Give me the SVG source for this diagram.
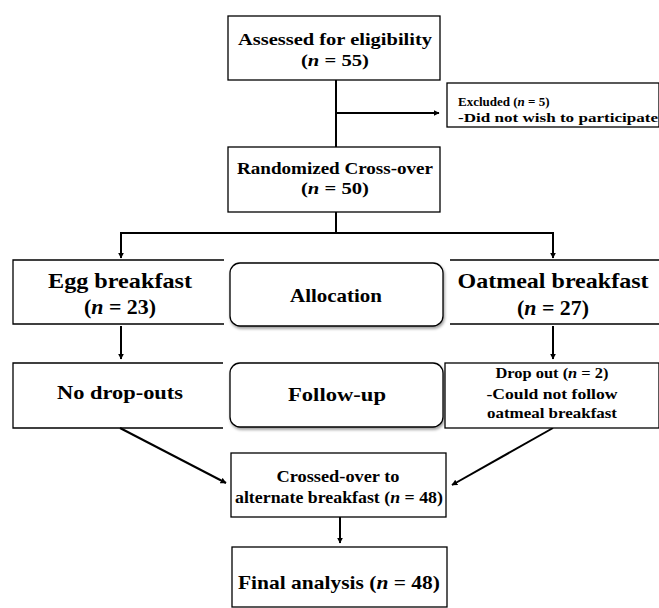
<svg xmlns="http://www.w3.org/2000/svg" width="659" height="608" viewBox="0 0 659 608">
<defs>
<marker id="ah" viewBox="0 0 10 10" refX="9" refY="5" markerWidth="6" markerHeight="6" markerUnits="userSpaceOnUse" orient="auto">
<path d="M0,0 L10,5 L0,10 z" fill="#000"/>
</marker>
<filter id="sh" x="-10%" y="-10%" width="130%" height="140%">
<feGaussianBlur in="SourceAlpha" stdDeviation="1.5"/>
<feOffset dx="1" dy="2" result="b"/>
<feComponentTransfer><feFuncA type="linear" slope="0.4"/></feComponentTransfer>
<feMerge><feMergeNode/><feMergeNode in="SourceGraphic"/></feMerge>
</filter>
</defs>
<style>
text{font-family:"Liberation Serif","Times New Roman",serif;font-weight:bold;fill:#000;text-anchor:middle}
.box{fill:#fff;stroke:#000;stroke-width:1.3}
.open{fill:none;stroke:#000;stroke-width:1.3}
.rbox{fill:#fff;stroke:#000;stroke-width:1.3;filter:url(#sh)}
.c{fill:none;stroke:#000;stroke-width:2}
.s{font-size:16px}
.xs{font-size:14px}
.ex{font-size:13px}
.l{font-size:22px}
.m{font-size:19px}
</style>
<rect width="659" height="608" fill="#fff"/>
<g id="connectors">
<line class="c" x1="336" y1="80" x2="336" y2="147"/>
<line class="c" x1="336" y1="113" x2="439" y2="113" marker-end="url(#ah)"/>
<polyline class="c" points="336,212 336,233 121,233 121,258" marker-end="url(#ah)"/>
<polyline class="c" points="336,233 553,233 553,258" marker-end="url(#ah)"/>
<line class="c" x1="121" y1="326" x2="121" y2="359" marker-end="url(#ah)"/>
<line class="c" x1="553" y1="326" x2="553" y2="359" marker-end="url(#ah)"/>
<line class="c" x1="120" y1="428" x2="226" y2="483" marker-end="url(#ah)"/>
<line class="c" x1="553" y1="428" x2="452" y2="485" marker-end="url(#ah)"/>
<line class="c" x1="340" y1="517" x2="340" y2="543" marker-end="url(#ah)"/>
</g>
<g id="assessed">
<rect class="box" x="228" y="16" width="212" height="64"/>
<text class="s" x="335" y="45" textLength="194" lengthAdjust="spacingAndGlyphs">Assessed for eligibility</text>
<text class="s" x="335" y="66" textLength="68" lengthAdjust="spacingAndGlyphs">(<tspan font-style="italic">n</tspan> = 55)</text>
</g>
<g id="excluded">
<rect class="box" x="447" y="83" width="212" height="44"/>
<text class="ex" x="458" y="106" style="text-anchor:start">Excluded (<tspan font-style="italic">n</tspan> = 5)</text>
<text class="ex" x="458" y="122" style="text-anchor:start" textLength="200" lengthAdjust="spacingAndGlyphs">-Did not wish to participate</text>
</g>
<g id="randomized">
<rect class="box" x="228" y="147" width="212" height="65"/>
<text class="s" x="335" y="174" textLength="196" lengthAdjust="spacingAndGlyphs">Randomized Cross-over</text>
<text class="s" x="335" y="194" textLength="68" lengthAdjust="spacingAndGlyphs">(<tspan font-style="italic">n</tspan> = 50)</text>
</g>
<g id="egg">
<path class="open" d="M224,260 H13 V324 H224"/>
<text class="l" x="120" y="288" textLength="144" lengthAdjust="spacingAndGlyphs">Egg breakfast</text>
<text class="l" x="120" y="314" textLength="72" lengthAdjust="spacingAndGlyphs">(<tspan font-style="italic">n</tspan> = 23)</text>
</g>
<g id="allocation">
<rect class="rbox" x="230" y="263" width="213" height="63" rx="10"/>
<text class="m" x="336" y="302" textLength="92" lengthAdjust="spacingAndGlyphs">Allocation</text>
</g>
<g id="oatmeal">
<path class="open" d="M450,260 H659 M450,324 H659"/>
<text class="l" x="553" y="288" textLength="191" lengthAdjust="spacingAndGlyphs">Oatmeal breakfast</text>
<text class="l" x="553" y="315" textLength="72" lengthAdjust="spacingAndGlyphs">(<tspan font-style="italic">n</tspan> = 27)</text>
</g>
<g id="nodrop">
<path class="open" d="M223,363 H13 V428 H223"/>
<text class="m" x="120" y="399" textLength="126" lengthAdjust="spacingAndGlyphs">No drop-outs</text>
</g>
<g id="followup">
<rect class="rbox" x="230" y="363" width="213" height="64" rx="10"/>
<text class="m" x="337" y="401" textLength="98" lengthAdjust="spacingAndGlyphs">Follow-up</text>
</g>
<g id="dropout">
<rect class="box" x="445" y="363" width="214" height="65"/>
<text class="xs" x="552" y="378" textLength="113" lengthAdjust="spacingAndGlyphs">Drop out (<tspan font-style="italic">n</tspan> = 2)</text>
<text class="xs" x="552" y="399" textLength="131" lengthAdjust="spacingAndGlyphs">-Could not follow</text>
<text class="xs" x="552" y="418" textLength="130" lengthAdjust="spacingAndGlyphs">oatmeal breakfast</text>
</g>
<g id="crossed">
<rect class="box" x="231" y="453" width="215" height="64"/>
<text class="s" x="338" y="482" textLength="123" lengthAdjust="spacingAndGlyphs">Crossed-over to</text>
<text class="s" x="339" y="503" textLength="208" lengthAdjust="spacingAndGlyphs">alternate breakfast (<tspan font-style="italic">n</tspan> = 48)</text>
</g>
<g id="final">
<rect class="box" x="232" y="547" width="215" height="60"/>
<text class="m" x="339" y="589" textLength="202" lengthAdjust="spacingAndGlyphs">Final analysis (<tspan font-style="italic">n</tspan> = 48)</text>
</g>
</svg>
